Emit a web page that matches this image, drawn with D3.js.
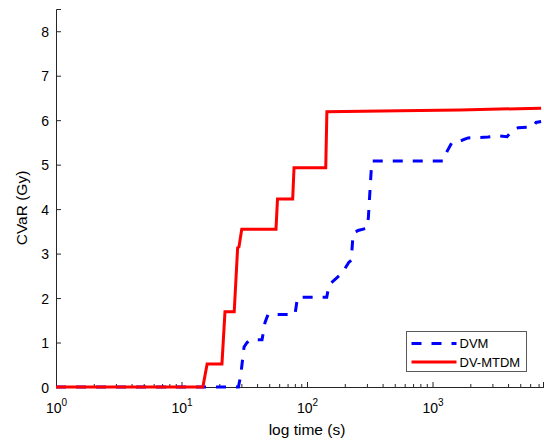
<!DOCTYPE html>
<html><head><meta charset="utf-8">
<script src="https://cdn.jsdelivr.net/npm/d3@7"></script>
<style>body{margin:0;background:#fff}svg{display:block}text{font-family:"Liberation Sans",Arial,Helvetica,sans-serif}</style>
</head><body><svg id="chart" width="544" height="443"></svg>
<script>
// ---- data ----
const seriesNames = ["DVM", "DV-MTDM"];
const dvmTime  = [1, 28.4, 29.6, 31.5, 33.3, 35.1, 43.8, 46.3, 48.9, 80.2, 84, 143.6, 149.8, 189, 215, 225, 233, 255, 299, 308, 328, 1213, 1306, 1430, 1718, 1918, 2768, 3325, 3924, 4378, 4800, 6323, 6680, 7330];
const dvmValue = [0, 0, 0.25, 0.9, 1.0, 1.06, 1.06, 1.45, 1.63, 1.63, 2.02, 2.02, 2.3, 2.55, 2.8, 2.85, 3.45, 3.52, 3.57, 3.8, 5.08, 5.08, 5.3, 5.5, 5.55, 5.6, 5.62, 5.65, 5.63, 5.78, 5.83, 5.85, 5.95, 5.97];
const mtdmTime  = [1, 14.8, 16, 21, 22.2, 26.3, 28, 28.7, 30.2, 56.6, 58.2, 76.9, 78.8, 141, 144, 550, 1650, 3440, 7330];
const mtdmValue = [0, 0, 0.52, 0.52, 1.69, 1.69, 3.13, 3.15, 3.55, 3.55, 4.23, 4.23, 4.93, 4.93, 6.19, 6.21, 6.23, 6.25, 6.27];
const yTicks = [0, 1, 2, 3, 4, 5, 6, 7, 8];
const xMajorTicks = [1, 10, 100, 1000];
const xTickExponents = ["0", "1", "2", "3"];
const xLabel = "log time (s)";
const yLabel = "CVaR (Gy)";

// ---- layout ----
const svg = d3.select("#chart");
const x = d3.scaleLog().domain([1, 7590]).range([56, 543]);
const y = d3.scaleLinear().domain([0, 8.5]).range([387, 9]);
const axisColor = "#262626";

// minor ticks 2..9 per decade
const xMinorTicks = [];
for (const d of xMajorTicks) for (let k = 2; k <= 9; k++) { const v = d * k; if (v <= 7590) xMinorTicks.push(v); }

// x axis minor
const gxMinor = svg.append("g").attr("transform", `translate(0,${y(0)})`)
  .call(d3.axisBottom(x).tickValues(xMinorTicks).tickSize(-3).tickFormat(() => ""));
// x axis major
const gx = svg.append("g").attr("transform", `translate(0,${y(0)})`)
  .call(d3.axisBottom(x).tickValues(xMajorTicks).tickSize(-5).tickFormat(() => ""));
[gxMinor, gx].forEach(g => {
  g.select(".domain").attr("stroke", axisColor).attr("stroke-width", 1);
  g.selectAll(".tick line").attr("stroke", axisColor);
});
gx.selectAll(".tick").each(function(d, i) {
  const t = d3.select(this).append("text")
    .attr("y", 26).attr("fill", "#000").attr("text-anchor", "middle")
    .style("font-size", "14px");
  t.append("tspan").text("10");
  t.append("tspan").attr("dy", -7).style("font-size", "10px").text(xTickExponents[i]);
});

// y axis
const gy = svg.append("g").attr("transform", `translate(${x(1)},0)`)
  .call(d3.axisLeft(y).tickValues(yTicks).tickSize(-5).tickPadding(7).tickFormat(d3.format("d")));
gy.select(".domain").attr("stroke", axisColor);
gy.selectAll(".tick line").attr("stroke", axisColor);
gy.selectAll(".tick text").attr("fill", "#000").style("font-size", "14px").attr("dy", "0.36em");

// axis labels
svg.append("text").attr("x", 307).attr("y", 434.5).attr("text-anchor", "middle")
  .style("font-size", "15.5px").attr("fill", "#000").text(xLabel);
svg.append("text").attr("transform", "translate(27,208) rotate(-90)").attr("text-anchor", "middle")
  .style("font-size", "15.5px").attr("fill", "#000").text(yLabel);

// lines
const line = d3.line().x(d => x(d[0])).y(d => y(d[1]));
const dvmPts = d3.zip(dvmTime, dvmValue);
const mtdmPts = d3.zip(mtdmTime, mtdmValue);
const styles = [
  { color: "#0000ff", dash: "10,10" },
  { color: "#ff0000", dash: null }
];
[dvmPts, mtdmPts].forEach((pts, i) => {
  svg.append("path").datum(pts).attr("d", line)
    .attr("fill", "none").attr("stroke", styles[i].color).attr("stroke-width", 3)
    .attr("stroke-dasharray", styles[i].dash).attr("stroke-linejoin", "miter");
});

// legend
const lg = svg.append("g");
lg.append("rect").attr("x", 406.5).attr("y", 331.5).attr("width", 120).attr("height", 40)
  .attr("fill", "#fff").attr("stroke", "#5a5a5a").attr("stroke-width", 1);
seriesNames.forEach((name, i) => {
  const yy = 343.5 + i * 18.5;
  lg.append("line").attr("x1", 411.5).attr("x2", 456.5).attr("y1", yy).attr("y2", yy)
    .attr("stroke", styles[i].color).attr("stroke-width", 3).attr("stroke-dasharray", styles[i].dash);
  lg.append("text").attr("x", 459.5).attr("y", yy).attr("dy", "0.36em")
    .style("font-size", "13px").attr("fill", "#000").text(name);
});
</script>
</body></html>
